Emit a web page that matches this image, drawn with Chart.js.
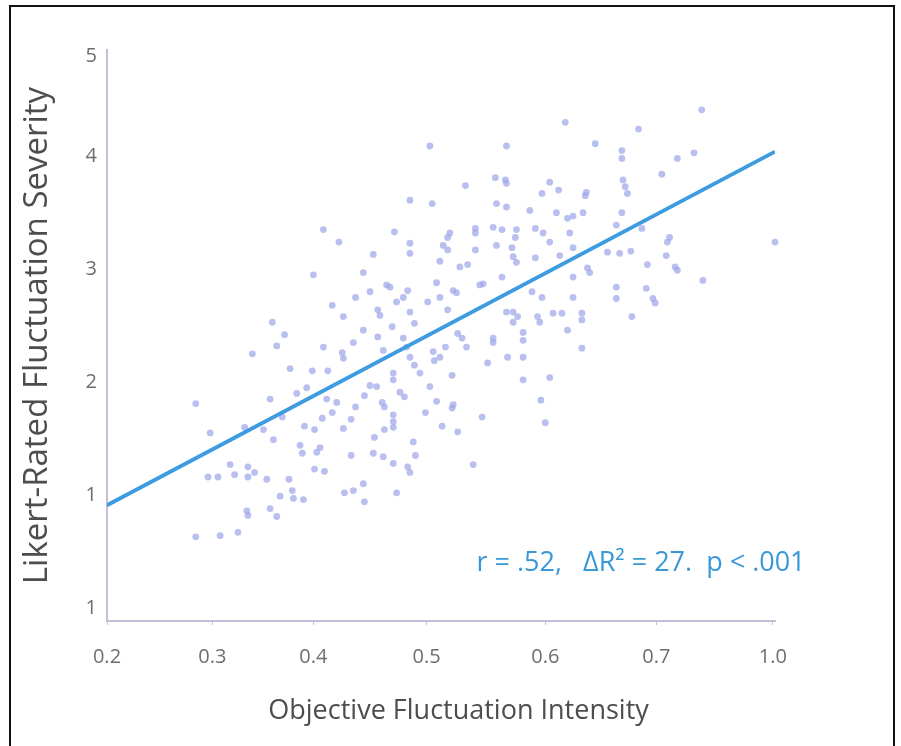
<!DOCTYPE html>
<html>
<head>
<meta charset="utf-8">
<script src="https://cdn.jsdelivr.net/npm/chart.js@4.4.1/dist/chart.umd.min.js"></script>
<style>
  body { margin: 0; background: #fff; }
  #wrap { position: relative; width: 901px; height: 746px; overflow: hidden; }
  #frame { position: absolute; left: 9px; top: 5px; width: 882px; height: 760px; border: 2px solid #111; pointer-events: none; }
</style>
</head>
<body>
<div id="wrap">
  <canvas id="fluctChart" width="901" height="746"></canvas>
  <div id="frame"></div>
</div>
<script>
// ---- data ----
const intensity = [
  0.491, 0.560, 0.640, 0.523, 0.550, 0.559, 0.560, 0.599, 0.607, 0.592,
  0.632, 0.631, 0.473, 0.493, 0.551, 0.560, 0.581, 0.605, 0.615, 0.620,
  0.629, 0.459, 0.507, 0.509, 0.503, 0.507, 0.532, 0.532, 0.548, 0.556,
  0.551, 0.569, 0.568, 0.586, 0.593, 0.599, 0.617, 0.473, 0.473, 0.440,
  0.500, 0.532, 0.565, 0.566, 0.569, 0.586, 0.608, 0.620, 0.518, 0.525,
  0.633, 0.635, 0.651, 0.431, 0.452, 0.455, 0.437, 0.497, 0.512, 0.515,
  0.536, 0.539, 0.556, 0.583, 0.592, 0.620, 0.620, 0.471, 0.467, 0.461,
  0.489, 0.500, 0.444, 0.446, 0.473, 0.507, 0.560, 0.566, 0.570, 0.566,
  0.588, 0.590, 0.602, 0.610, 0.628, 0.628, 0.431, 0.457, 0.477, 0.444,
  0.467, 0.470, 0.516, 0.520, 0.524, 0.548, 0.548, 0.575, 0.575, 0.615,
  0.449, 0.494, 0.500, 0.495, 0.505, 0.473, 0.477, 0.543, 0.561, 0.575,
  0.628, 0.458, 0.458, 0.482, 0.491, 0.511, 0.575, 0.599, 0.437, 0.443,
  0.395, 0.409, 0.386, 0.424, 0.403, 0.413, 0.349, 0.613, 0.360, 0.353,
  0.331, 0.395, 0.422, 0.412, 0.413, 0.365, 0.385, 0.399, 0.380, 0.464,
  0.468, 0.432, 0.280, 0.347, 0.371, 0.398, 0.407, 0.424, 0.448, 0.450,
  0.458, 0.458, 0.458, 0.497, 0.512, 0.511, 0.487, 0.293, 0.324, 0.341,
  0.358, 0.350, 0.378, 0.387, 0.403, 0.394, 0.420, 0.413, 0.441, 0.450,
  0.476, 0.478, 0.502, 0.516, 0.538, 0.374, 0.376, 0.392, 0.389, 0.420,
  0.440, 0.449, 0.458, 0.471, 0.473, 0.530, 0.311, 0.291, 0.300, 0.315,
  0.327, 0.327, 0.333, 0.344, 0.364, 0.387, 0.396, 0.356, 0.367, 0.368,
  0.377, 0.414, 0.422, 0.431, 0.432, 0.461, 0.326, 0.327, 0.347, 0.353,
  0.280, 0.302, 0.318, 0.591, 0.595, 0.736, 0.679, 0.664, 0.664, 0.714,
  0.729, 0.700, 0.665, 0.667, 0.669, 0.664, 0.682, 0.707, 0.705, 0.802,
  0.662, 0.672, 0.704, 0.687, 0.712, 0.714, 0.686, 0.692, 0.694, 0.737,
  0.673, 0.659, 0.659, 0.659
];
const severity = [
  4.09, 4.09, 4.11, 3.74, 3.81, 3.79, 3.76, 3.77, 3.70, 3.67,
  3.68, 3.65, 3.61, 3.58, 3.58, 3.55, 3.52, 3.50, 3.45, 3.47,
  3.50, 3.33, 3.28, 3.32, 3.21, 3.17, 3.36, 3.32, 3.37, 3.35,
  3.21, 3.35, 3.28, 3.36, 3.32, 3.24, 3.32, 3.23, 3.14, 3.13,
  3.07, 3.17, 3.19, 3.11, 3.06, 3.10, 3.12, 3.19, 3.02, 3.04,
  3.01, 2.97, 3.15, 2.97, 2.86, 2.84, 2.80, 2.88, 2.81, 2.79,
  2.86, 2.87, 2.93, 2.80, 2.75, 2.93, 2.75, 2.81, 2.75, 2.71,
  2.71, 2.75, 2.64, 2.59, 2.62, 2.64, 2.62, 2.62, 2.58, 2.53,
  2.58, 2.53, 2.61, 2.61, 2.61, 2.55, 2.46, 2.49, 2.52, 2.40,
  2.39, 2.31, 2.43, 2.39, 2.31, 2.39, 2.35, 2.44, 2.37, 2.46,
  2.28, 2.27, 2.22, 2.19, 2.31, 2.22, 2.15, 2.17, 2.22, 2.22,
  2.30, 2.08, 2.02, 2.08, 1.96, 2.06, 2.02, 2.04, 1.97, 1.96,
  3.35, 3.24, 2.95, 2.75, 2.68, 2.58, 2.53, 4.30, 2.42, 2.32,
  2.25, 2.31, 2.35, 2.26, 2.21, 2.12, 2.10, 2.10, 1.95, 1.91,
  1.87, 1.88, 1.81, 1.85, 1.90, 1.85, 1.82, 1.78, 1.82, 1.78,
  1.71, 1.65, 1.60, 1.83, 1.80, 1.77, 1.73, 1.55, 1.60, 1.58,
  1.69, 1.49, 1.61, 1.58, 1.73, 1.68, 1.67, 1.59, 1.51, 1.58,
  1.47, 1.35, 1.61, 1.56, 1.69, 1.44, 1.37, 1.42, 1.38, 1.35,
  1.37, 1.34, 1.28, 1.25, 1.20, 1.27, 1.27, 1.16, 1.16, 1.18,
  1.25, 1.16, 1.20, 1.14, 1.14, 1.23, 1.21, 0.99, 1.04, 0.97,
  0.96, 1.02, 1.04, 1.10, 0.94, 1.02, 0.86, 0.82, 0.88, 0.81,
  0.63, 0.64, 0.67, 1.84, 1.64, 4.41, 4.24, 4.05, 3.98, 3.98,
  4.03, 3.84, 3.79, 3.73, 3.67, 3.50, 3.36, 3.28, 3.24, 3.24,
  3.14, 3.16, 3.12, 3.04, 3.02, 2.99, 2.83, 2.74, 2.70, 2.90,
  2.58, 3.39, 2.84, 2.74
];

// regression line end points
const fitX = [0.2, 0.802];
const fitY = [0.91, 4.04];

// axis ticks as printed on the figure
const xTickValues = [0.2, 0.295, 0.386, 0.488, 0.595, 0.695, 0.8];
const xTickLabels = ['0.2', '0.3', '0.4', '0.5', '0.6', '0.7', '1.0'];
const yTickValues = [0, 1, 2, 3, 4, 4.88];
const yTickLabels = ['1', '1', '2', '3', '4', '5'];

const statsText = 'r = .52,   \u0394R\u00B2 = 27.  p < .001';
const statsAt = { x: 0.533, y: 0.40 };

const FONT = '"Open Sans", "DejaVu Sans", sans-serif';
const AXIS_COLOR = '#c7bdd6';
const TEXT_GREY = '#6e6e6e';

// draws the r / R² note inside the plot
const statsNote = {
  id: 'statsNote',
  afterDatasetsDraw(chart) {
    const { ctx, scales } = chart;
    ctx.save();
    ctx.font = '27px ' + FONT;
    ctx.fillStyle = '#3a98d8';
    ctx.textAlign = 'left';
    ctx.textBaseline = 'middle';
    ctx.fillText(statsText, scales.x.getPixelForValue(statsAt.x), scales.y.getPixelForValue(statsAt.y));
    ctx.restore();
  }
};

const points = intensity.map((v, i) => ({ x: v, y: severity[i] }));
const fitLine = fitX.map((v, i) => ({ x: v, y: fitY[i] }));

new Chart(document.getElementById('fluctChart'), {
  type: 'scatter',
  data: {
    datasets: [
      {
        type: 'line',
        data: fitLine,
        borderColor: '#3c9be1',
        borderWidth: 3.8,
        pointRadius: 0,
        order: 0
      },
      {
        data: points,
        backgroundColor: 'rgba(155,165,232,0.7)',
        borderWidth: 0,
        pointRadius: 3.4,
        clip: 8,
        order: 1
      }
    ]
  },
  options: {
    responsive: false,
    animation: false,
    devicePixelRatio: 1,
    layout: { padding: { left: 0, right: 126, top: 50, bottom: 0 } },
    plugins: {
      legend: { display: false },
      tooltip: { enabled: false }
    },
    scales: {
      x: {
        type: 'linear',
        min: 0.2,
        max: 0.802,
        afterBuildTicks: s => { s.ticks = xTickValues.map(v => ({ value: v })); },
        afterFit: s => { s.height = 125; },
        border: { color: AXIS_COLOR, width: 2 },
        grid: { drawOnChartArea: false, drawTicks: true, tickLength: 4, color: AXIS_COLOR },
        ticks: {
          autoSkip: false,
          maxRotation: 0,
          padding: 20,
          color: TEXT_GREY,
          font: { family: FONT, size: 20 },
          callback: (v, i) => xTickLabels[i]
        },
        title: {
          display: true,
          // leading spaces nudge the centred title to the right, as printed
          text: '     Objective Fluctuation Intensity',
          color: '#4d4d4d',
          font: { family: FONT, size: 27 },
          padding: { top: 0, bottom: 18 }
        }
      },
      y: {
        type: 'linear',
        min: -0.115,
        max: 4.94,
        afterBuildTicks: s => { s.ticks = yTickValues.map(v => ({ value: v })); },
        afterFit: s => { s.width = 107; },
        border: { color: AXIS_COLOR, width: 2 },
        grid: { drawOnChartArea: false, drawTicks: false },
        ticks: {
          autoSkip: false,
          padding: 10,
          color: TEXT_GREY,
          font: { family: FONT, size: 20 },
          callback: (v, i) => yTickLabels[i]
        },
        title: {
          display: true,
          text: 'Likert-Rated Fluctuation Severity',
          color: '#4d4d4d',
          font: { family: FONT, size: 33 },
          padding: { top: 18, bottom: 0 }
        }
      }
    }
  },
  plugins: [statsNote]
});
</script>
</body>
</html>
